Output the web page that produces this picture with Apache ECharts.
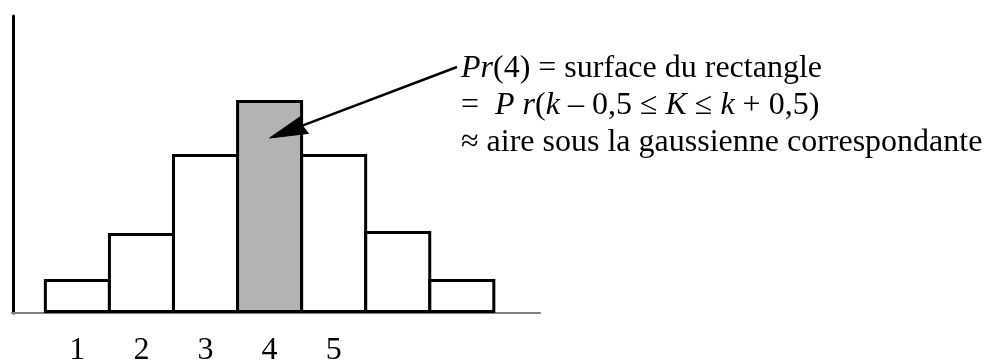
<!DOCTYPE html>
<html>
<head>
<meta charset="utf-8">
<script src="https://cdn.jsdelivr.net/npm/echarts@6/dist/echarts.min.js"></script>
<style>
  html, body { margin: 0; padding: 0; background: #fff; }
  #chart { width: 985px; height: 360px; }
</style>
</head>
<body>
<div id="chart"></div>
<script>
// Histogram of K: one bar per value k, the bar k = 4 shaded
const kValues = [1, 2, 3, 4, 5, 6, 7];
const barHeights = [34, 80, 159, 213, 159, 82, 34];
const tickLabels = [1, 2, 3, 4, 5];
const shadedK = 4;
// point inside the shaded bar where the note's arrow ends (data units)
const arrowTarget = [4, 175];
// the note, one entry per line ({i|...} is set in italics)
const noteLines = [
  '{i|Pr}(4) = surface du rectangle',
  '=  {i|P r}({i|k} \u2013 0,5 \u2264 {i|K} \u2264 {i|k} + 0,5)',
  '\u2248 aire sous la gaussienne correspondante'
];

const FONT = '"Liberation Serif", "Times New Roman", serif';
const NOTE_LEFT = 461;
const NOTE_TOP = 50;

const chart = echarts.init(document.getElementById('chart'), null, { renderer: 'canvas' });

chart.setOption({
  animation: false,
  backgroundColor: '#fff',
  grid: {
    left: 12, top: 16, width: 528, height: 297,
    containLabel: false,
    outerBoundsMode: 'none'
  },
  xAxis: {
    type: 'value',
    min: -0.02,
    max: 8.22,
    splitLine: { show: false },
    axisTick: { show: false },
    axisLine: { show: true, onZero: false, lineStyle: { color: '#808080', width: 2 } },
    axisLabel: {
      customValues: tickLabels,
      formatter: v => String(v),
      margin: 22,
      color: '#000',
      fontFamily: FONT,
      fontSize: 32
    }
  },
  yAxis: {
    type: 'value',
    min: 0,
    max: 297,
    splitLine: { show: false },
    axisTick: { show: false },
    axisLabel: { show: false },
    axisLine: { show: true, lineStyle: { color: '#000', width: 3 } }
  },
  series: [{
    type: 'bar',
    // bars touch: the outline is drawn inside the bar width
    barWidth: 67,
    silent: true,
    data: kValues.map((k, i) => ({
      value: [k, barHeights[i]],
      itemStyle: { color: k === shadedK ? '#b3b3b3' : '#fff' }
    })),
    itemStyle: { borderColor: '#000', borderWidth: 3 }
  }],
  graphic: [{
    id: 'note',
    type: 'text',
    left: NOTE_LEFT,
    top: NOTE_TOP,
    z: 20,
    silent: true,
    style: {
      text: noteLines.join('\n'),
      fill: '#000',
      fontFamily: FONT,
      fontSize: 32,
      lineHeight: 37,
      rich: {
        i: { fontFamily: FONT, fontSize: 32, fontStyle: 'italic', lineHeight: 37 }
      }
    }
  }]
});

// Arrow from the start of the note down into the shaded bar
const tip = chart.convertToPixel({ xAxisIndex: 0, yAxisIndex: 0 }, arrowTarget);
const tail = [NOTE_LEFT - 4, NOTE_TOP + 17];
const len = Math.hypot(tail[0] - tip[0], tail[1] - tip[1]);
const dir = [(tail[0] - tip[0]) / len, (tail[1] - tip[1]) / len];
const nrm = [-dir[1], dir[0]];
const headLen = 38, headHalf = 9.5, notch = 3;
const base = [tip[0] + dir[0] * headLen, tip[1] + dir[1] * headLen];
const neck = [tip[0] + dir[0] * (headLen - notch), tip[1] + dir[1] * (headLen - notch)];

chart.setOption({
  graphic: [
    {
      id: 'arrowShaft',
      type: 'line',
      z: 20,
      silent: true,
      shape: { x1: tail[0], y1: tail[1], x2: neck[0], y2: neck[1] },
      style: { stroke: '#000', lineWidth: 2.5 }
    },
    {
      id: 'arrowHead',
      type: 'polygon',
      z: 20,
      silent: true,
      shape: {
        points: [
          tip,
          [base[0] + nrm[0] * headHalf, base[1] + nrm[1] * headHalf],
          neck,
          [base[0] - nrm[0] * headHalf, base[1] - nrm[1] * headHalf]
        ]
      },
      style: { fill: '#000', stroke: '#000', lineWidth: 1 }
    }
  ]
});
</script>
</body>
</html>
